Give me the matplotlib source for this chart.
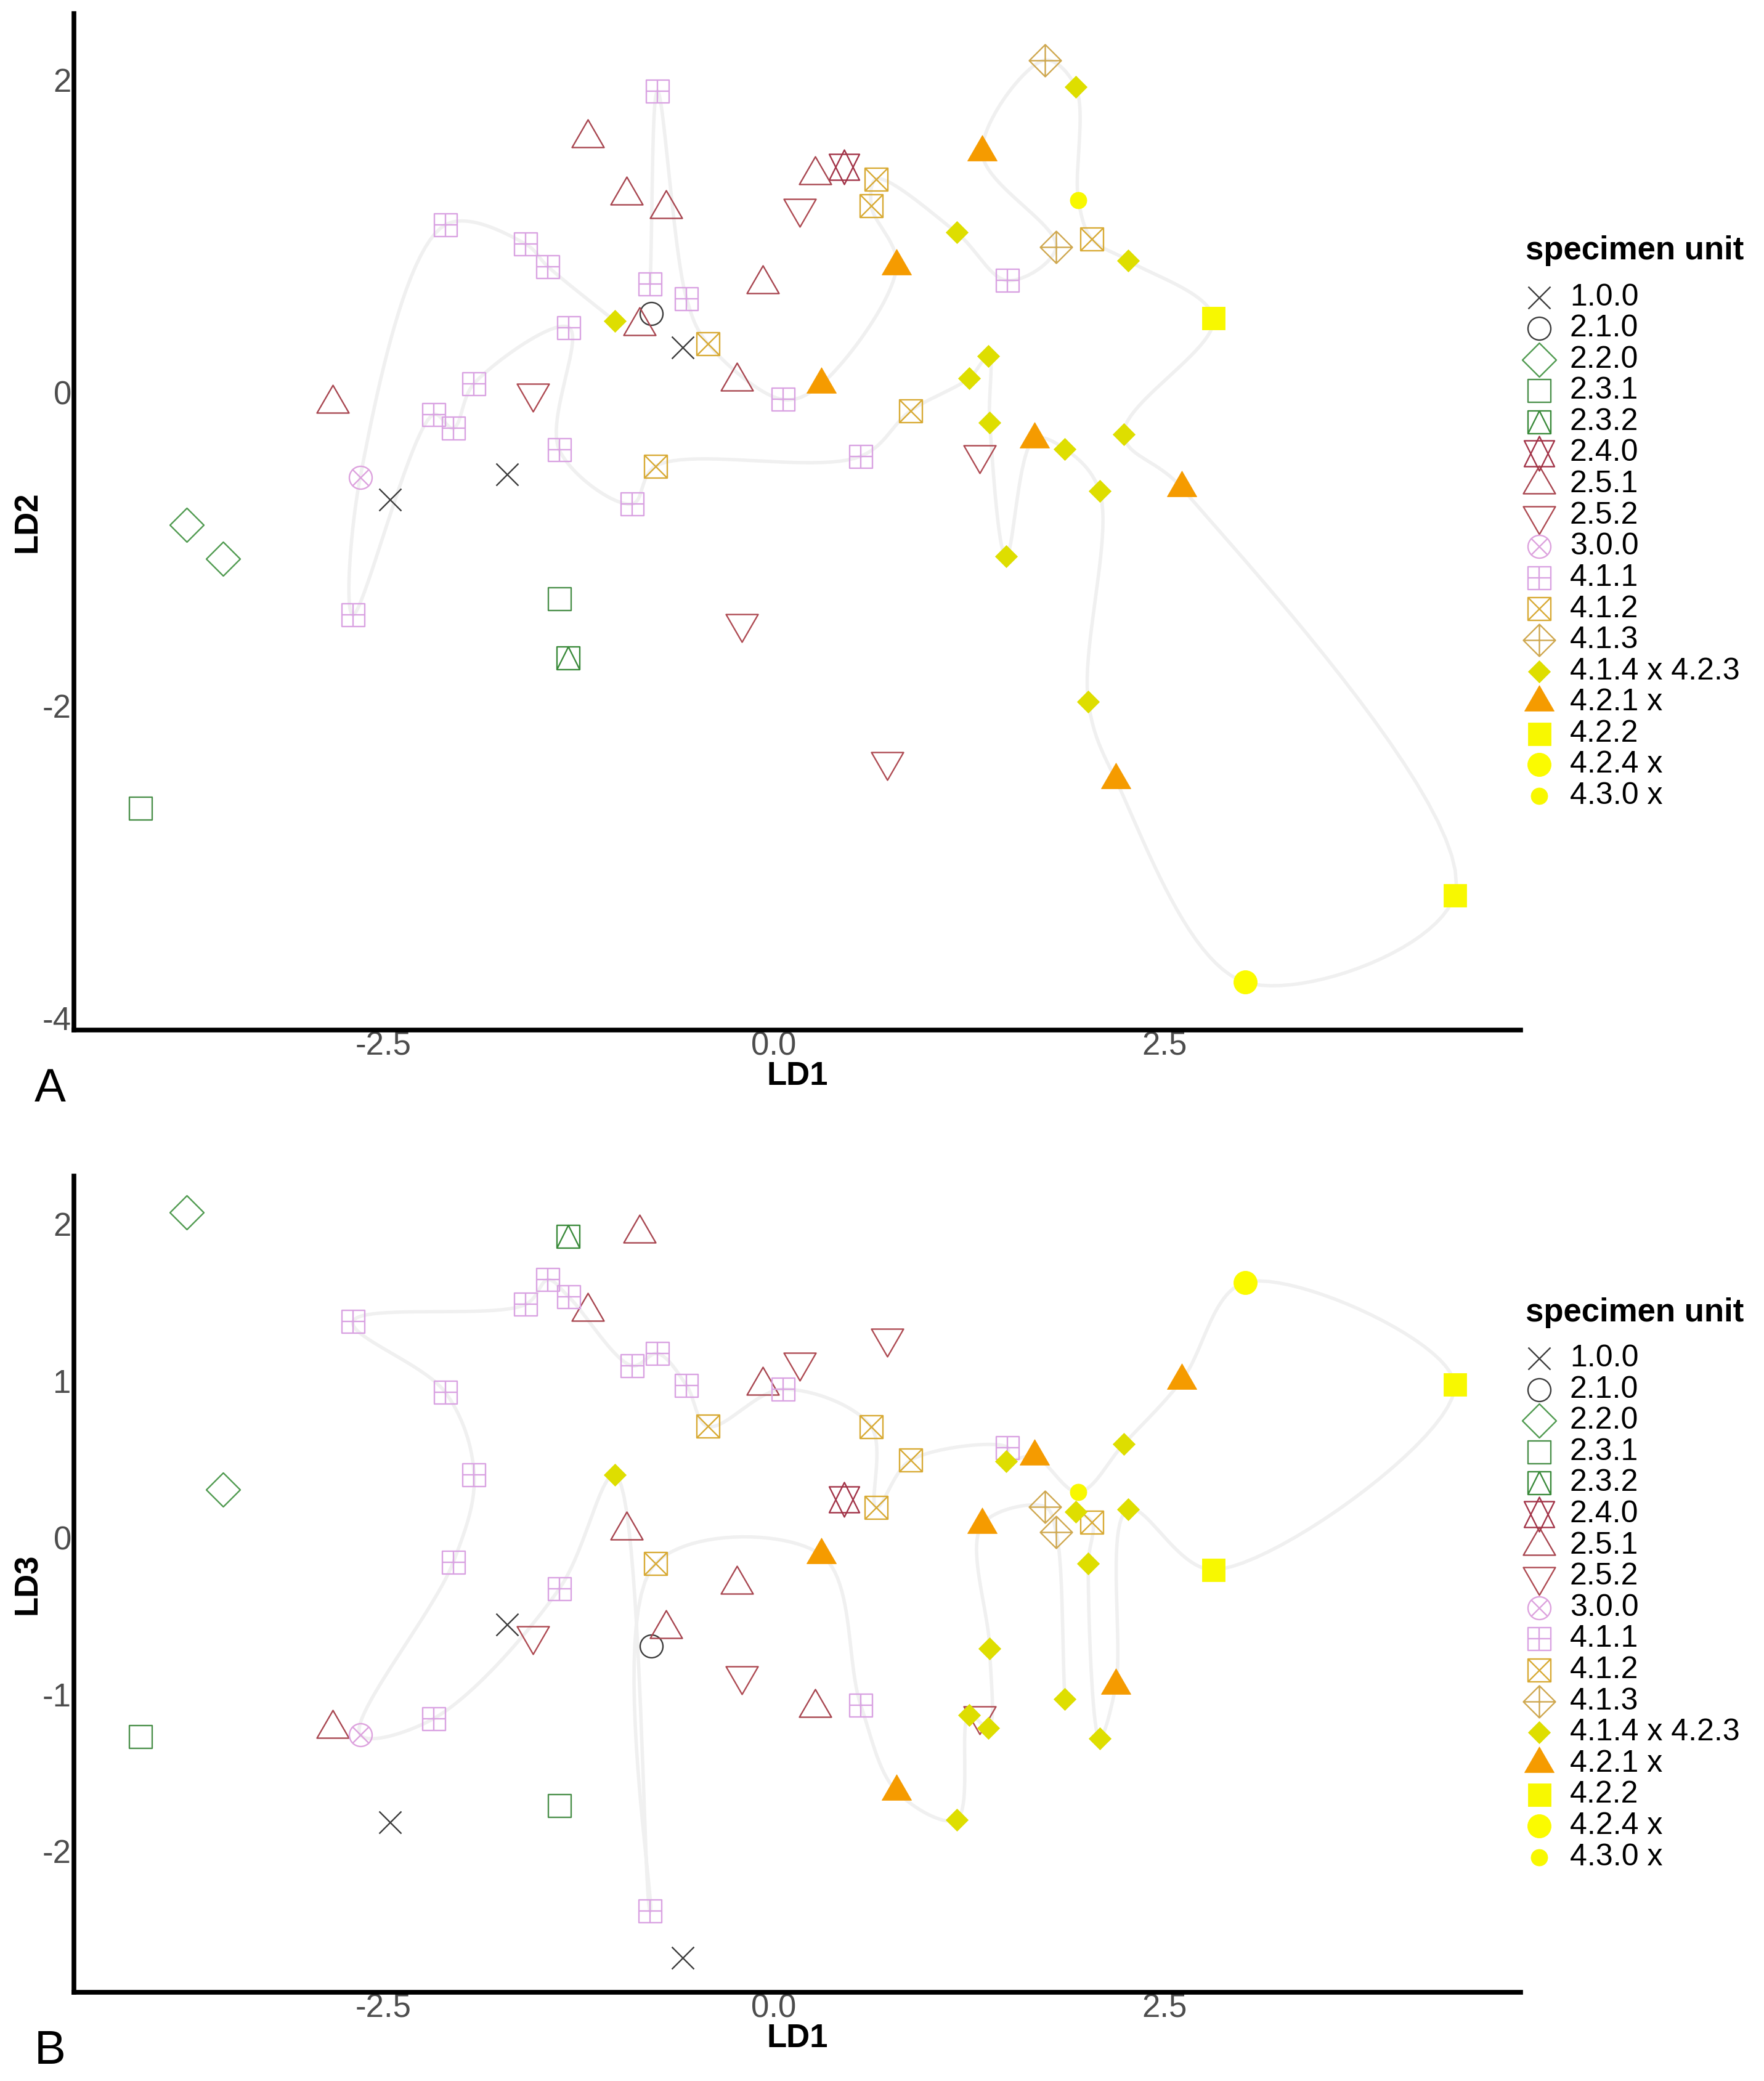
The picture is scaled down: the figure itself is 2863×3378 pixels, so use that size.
import numpy as np
import matplotlib
matplotlib.use("Agg")
import matplotlib.pyplot as plt
from matplotlib.path import Path
from matplotlib.markers import MarkerStyle

plt.rcParams['font.family'] = ['Liberation Sans', 'DejaVu Sans']

# ---------------- data ----------------
units = ['1.0.0', '2.1.0', '2.2.0', '2.3.1', '2.3.2', '2.4.0', '2.5.1', '2.5.2',
         '3.0.0', '4.1.1', '4.1.2', '4.1.3', '4.1.4 x 4.2.3', '4.2.1 x', '4.2.2',
         '4.2.4 x', '4.3.0 x']

ld1_u100 = [-2.457, -1.707, -0.583]
ld2_u100 = [-0.686, -0.521, 0.290]
ld3_u100 = [-1.816, -0.555, -2.679]

ld1_u210 = [-0.786]
ld2_u210 = [0.504]
ld3_u210 = [-0.690]

ld1_u220 = [-3.757, -3.526]
ld2_u220 = [-0.845, -1.062]
ld3_u220 = [2.075, 0.307]

ld1_u231 = [-1.374, -4.055]
ld2_u231 = [-1.319, -2.658]
ld3_u231 = [-1.708, -1.269]

ld1_u232 = [-1.318]
ld2_u232 = [-1.696]
ld3_u232 = [1.920]

ld1_u240 = [0.451]
ld2_u240 = [1.441]
ld3_u240 = [0.244]

ld1_u251 = [-2.822, -1.192, -0.941, -0.689, -0.861, -0.071, -0.236, 0.262]
ld2_u251 = [-0.068, 1.627, 1.263, 1.173, 0.428, 0.696, 0.070, 1.390]
ld3_u251 = [-1.220, 1.441, 0.048, -0.581, 1.942, 0.970, -0.299, -1.085]

ld1_u252 = [-1.543, 0.166, -0.204, 0.727, 1.315]
ld2_u252 = [-0.002, 1.178, -1.475, -2.359, -0.395]
ld3_u252 = [-0.627, 1.121, -0.881, 1.272, -1.136]

ld1_u300 = [-2.648]
ld2_u300 = [-0.543]
ld3_u300 = [-1.258]

ld1_u411 = [-2.695, -2.177, -2.102, -2.052, -1.919, -1.589, -1.446, -1.374,
            -1.312, -0.907, -0.745, -0.792, -0.559, 0.057, 0.556, 1.496]
ld2_u411 = [-1.421, -0.140, 1.073, -0.228, 0.058, 0.949, 0.805, -0.366,
            0.416, -0.712, 1.927, 0.696, 0.600, -0.044, -0.407, 0.716]
ld3_u411 = [1.377, -1.154, 0.925, -0.157, 0.400, 1.487, 1.644, -0.327,
            1.534, 1.096, 1.174, -2.382, 0.970, 0.946, -1.070, 0.574]

ld1_u412 = [-0.424, -0.759, 0.655, 0.623, 0.874, 2.036]
ld2_u412 = [0.314, -0.471, 1.365, 1.194, -0.117, 0.980]
ld3_u412 = [0.710, -0.166, 0.192, 0.707, 0.493, 0.099]

ld1_u413 = [1.735, 1.806]
ld2_u413 = [2.125, 0.929]
ld3_u413 = [0.197, 0.036]

ld1_u414 = [-1.018, 1.931, 1.169, 2.267, 1.373, 1.249, 1.381, 1.862, 2.239, 2.084, 1.486, 2.012]
ld2_u414 = [0.457, 1.954, 1.023, 0.844, 0.233, 0.092, -0.190, -0.360, -0.267, -0.630, -1.048, -1.975]
ld3_u414 = [0.400, 0.163, -1.798, 0.180, -1.213, -1.131, -0.708, -1.030, 0.597, -1.282, 0.487, -0.167]

ld1_u421 = [0.302, 0.786, 1.332, 1.666, 2.610, 2.188]
ld2_u421 = [0.053, 0.810, 1.536, -0.297, -0.609, -2.476]
ld3_u421 = [-0.110, -1.619, 0.082, 0.519, 1.002, -0.943]

ld1_u422 = [2.813, 4.356]
ld2_u422 = [0.476, -3.213]
ld3_u422 = [-0.205, 0.979]

ld1_u424 = [3.015]
ld2_u424 = [-3.769]
ld3_u424 = [1.627]

ld1_u430 = [1.949]
ld2_u430 = [1.228]
ld3_u430 = [0.290]

LD1 = [ld1_u100, ld1_u210, ld1_u220, ld1_u231, ld1_u232, ld1_u240, ld1_u251, ld1_u252,
       ld1_u300, ld1_u411, ld1_u412, ld1_u413, ld1_u414, ld1_u421, ld1_u422, ld1_u424, ld1_u430]
LD2 = [ld2_u100, ld2_u210, ld2_u220, ld2_u231, ld2_u232, ld2_u240, ld2_u251, ld2_u252,
       ld2_u300, ld2_u411, ld2_u412, ld2_u413, ld2_u414, ld2_u421, ld2_u422, ld2_u424, ld2_u430]
LD3 = [ld3_u100, ld3_u210, ld3_u220, ld3_u231, ld3_u232, ld3_u240, ld3_u251, ld3_u252,
       ld3_u300, ld3_u411, ld3_u412, ld3_u413, ld3_u414, ld3_u421, ld3_u422, ld3_u424, ld3_u430]

colors = ['#3c3c3c', '#3c3c3c', '#4f9a4f', '#4a904a', '#3a8a3a', '#a23448', '#a84650', '#ae4a52',
          '#dda2de', '#d9a2e2', '#d8aa34', '#cfa850', '#dede00', '#f59b00', '#f8f800',
          '#fbfb00', '#f8f800']

# path order (unit index, point index) for the connecting trajectory
D = 12
path_A = [(9, 11), (9, 10), (9, 12), (10, 0), (9, 13), (13, 0), (13, 1), (10, 3), (10, 2),
          (D, 2), (9, 15), (11, 1), (13, 2), (11, 0), (D, 1), (16, 0), (10, 5), (D, 3),
          (14, 0), (D, 8), (13, 4), (14, 1), (15, 0), (13, 5), (D, 11), (D, 9), (D, 7),
          (13, 3), (D, 10), (D, 6), (D, 4), (D, 5), (10, 4), (9, 14), (10, 1), (9, 9),
          (9, 7), (9, 8), (9, 4), (9, 3), (9, 1), (9, 0), (8, 0), (9, 2), (9, 5), (9, 6), (D, 0)]
path_B = [(D, 1), (10, 5), (D, 11), (D, 9), (13, 5), (D, 3), (14, 0), (14, 1), (15, 0),
          (13, 4), (D, 8), (16, 0), (13, 3), (D, 10), (9, 15), (10, 4), (10, 2), (10, 3),
          (9, 13), (10, 0), (9, 12), (9, 10), (9, 9), (9, 8), (9, 6), (9, 5), (9, 0),
          (9, 2), (9, 4), (9, 3), (8, 0), (9, 1), (9, 7), (D, 0), (9, 11), (10, 1),
          (13, 0), (9, 14), (13, 1), (D, 2), (D, 5), (D, 4), (D, 6), (13, 2), (11, 0),
          (11, 1), (D, 7)]

# ---------------- markers (R pch look-alikes) ----------------
PX_PER_PT = 100 / 72.0


def lines(segs):
    verts, codes = [], []
    for seg in segs:
        for k, p in enumerate(seg):
            verts.append(p)
            codes.append(Path.MOVETO if k == 0 else Path.LINETO)
    return Path(verts, codes)


def poly(pts):
    pts = list(pts) + [pts[0]]
    return Path(pts, [Path.MOVETO] + [Path.LINETO] * (len(pts) - 2) + [Path.CLOSEPOLY])


def circ(r):
    c = Path.unit_circle()
    return Path(c.vertices * r, c.codes)


def compound(*ps):
    return Path.make_compound_path(*ps)


s = 18.5
r_tri, xc_tri = 30.0, 26.0
hx_r, hx_yc, hx_xc = 28.0, 21.0, 24.5
dm = 27.5

marker_paths = [
    (lines([[(-18, -18), (18, 18)], [(-18, 18), (18, -18)]]), False),            # pch 4
    (circ(18.5), False),                                                          # pch 1
    (poly([(dm, 0), (0, dm), (-dm, 0), (0, -dm)]), False),                        # pch 5
    (poly([(-s, -s), (s, -s), (s, s), (-s, s)]), False),                          # pch 0
    (compound(poly([(-s, -s), (s, -s), (s, s), (-s, s)]),
              lines([[(-s, -s), (0, s), (s, -s)]])), False),                      # pch 14
    (compound(poly([(0, hx_r), (hx_xc, -hx_yc), (-hx_xc, -hx_yc)]),
              poly([(0, -hx_r), (hx_xc, hx_yc), (-hx_xc, hx_yc)])), False),       # pch 11
    (poly([(0, r_tri), (xc_tri, -r_tri / 2), (-xc_tri, -r_tri / 2)]), False),     # pch 2
    (poly([(0, -r_tri), (xc_tri, r_tri / 2), (-xc_tri, r_tri / 2)]), False),      # pch 6
    (compound(circ(18.5), lines([[(-13.1, -13.1), (13.1, 13.1)],
                                 [(-13.1, 13.1), (13.1, -13.1)]])), False),       # pch 13
    (compound(poly([(-s, -s), (s, -s), (s, s), (-s, s)]),
              lines([[(-s, 0), (s, 0)], [(0, -s), (0, s)]])), False),             # pch 12
    (compound(poly([(-s, -s), (s, -s), (s, s), (-s, s)]),
              lines([[(-s, -s), (s, s)], [(-s, s), (s, -s)]])), False),           # pch 7
    (compound(poly([(26, 0), (0, 26), (-26, 0), (0, -26)]),
              lines([[(-26, 0), (26, 0)], [(0, -26), (0, 26)]])), False),         # pch 9
    (poly([(18, 0), (0, 18), (-18, 0), (0, -18)]), True),                         # pch 18
    (poly([(0, 27.7), (24, -13.85), (-24, -13.85)]), True),                       # pch 17
    (poly([(-18.5, -18.5), (18.5, -18.5), (18.5, 18.5), (-18.5, 18.5)]), True),   # pch 15
    (circ(19.0), True),                                                           # pch 16
    (circ(13.5), True),                                                           # pch 20
]


def draw_mark(ax, x, y, k, **kw):
    path, filled = marker_paths[k]
    ms = 2 * np.max(np.abs(path.vertices)) / PX_PER_PT
    col = colors[k]
    ax.plot(x, y, linestyle='none', marker=MarkerStyle(path), markersize=ms,
            markerfacecolor=col if filled else 'none', markeredgecolor=col,
            markeredgewidth=0.6 if filled else 1.7, zorder=3, **kw)


def catmull_rom(P, n=24, alpha=0.5):
    P = np.asarray(P, float)
    P = np.vstack([2 * P[0] - P[1], P, 2 * P[-1] - P[-2]])
    out = []
    for i in range(1, len(P) - 2):
        p0, p1, p2, p3 = P[i - 1], P[i], P[i + 1], P[i + 2]
        t0 = 0.0
        t1 = t0 + max(np.linalg.norm(p1 - p0), 1e-6) ** alpha
        t2 = t1 + max(np.linalg.norm(p2 - p1), 1e-6) ** alpha
        t3 = t2 + max(np.linalg.norm(p3 - p2), 1e-6) ** alpha
        t = np.linspace(t1, t2, n)[:, None]
        a1 = (t1 - t) / (t1 - t0) * p0 + (t - t0) / (t1 - t0) * p1
        a2 = (t2 - t) / (t2 - t1) * p1 + (t - t1) / (t2 - t1) * p2
        a3 = (t3 - t) / (t3 - t2) * p2 + (t - t2) / (t3 - t2) * p3
        b1 = (t2 - t) / (t2 - t0) * a1 + (t - t0) / (t2 - t0) * a2
        b2 = (t3 - t) / (t3 - t1) * a2 + (t - t1) / (t3 - t1) * a3
        c = (t2 - t) / (t2 - t1) * b1 + (t - t1) / (t2 - t1) * b2
        out.append(c if i == 1 else c[1:])
    return np.vstack(out)


# ---------------- figure ----------------
W, H = 2863, 3378
fig = plt.figure(figsize=(W / 100, H / 100), dpi=100)
fig.patch.set_facecolor('white')

XL, XR = 120, 2468
panels = [
    dict(top=22, bottom=1672, ylim=(-4.075, 2.423), yticks=[-4, -2, 0, 2], ydat=LD2,
         ylabel='LD2', path=path_A, tag='A', tag_y=1768, leg_title=407, leg_first=482.5),
    dict(top=1909, bottom=3234, ylim=(-2.900, 2.306), yticks=[-2, -1, 0, 1, 2], ydat=LD3,
         ylabel='LD3', path=path_B, tag='B', tag_y=3330, leg_title=2131, leg_first=2205),
]

for P in panels:
    ax = fig.add_axes([XL / W, 1 - P['bottom'] / H, (XR - XL) / W, (P['bottom'] - P['top']) / H])
    ax.set_xlim(-4.480, 4.779)
    ax.set_ylim(*P['ylim'])
    ax.set_facecolor('white')
    for sp in ['top', 'right']:
        ax.spines[sp].set_visible(False)
    for sp in ['left', 'bottom']:
        ax.spines[sp].set_linewidth(5.5)
        ax.spines[sp].set_color('black')
        ax.spines[sp].set_capstyle('projecting')
    ax.set_xticks([-2.5, 0.0, 2.5])
    ax.set_xticklabels(['-2.5', '0.0', '2.5'])
    ax.set_yticks(P['yticks'])
    ax.set_yticklabels([str(v) for v in P['yticks']])
    ax.tick_params(axis='both', length=0, labelsize=38, labelcolor='#4d4d4d')
    ax.tick_params(axis='x', pad=1)
    ax.tick_params(axis='y', pad=3)
    ax.set_xlabel('LD1', fontsize=38, fontweight='bold')
    ax.set_ylabel(P['ylabel'], fontsize=38, fontweight='bold')
    ax.xaxis.set_label_coords(0.5, -75.0 / (P['bottom'] - P['top']))
    ax.xaxis.label.set_va('center')
    ax.yaxis.set_label_coords(-0.032, 0.5)
    ax.yaxis.label.set_va('center')

    # trajectory
    pts = [(LD1[u][i], P['ydat'][u][i]) for (u, i) in P['path']]
    curve = catmull_rom(pts)
    ax.plot(curve[:, 0], curve[:, 1], color='#f0f0f0', lw=4.0, zorder=1,
            solid_capstyle='round', solid_joinstyle='round')

    # points
    for k in range(len(units)):
        draw_mark(ax, LD1[k], P['ydat'][k], k, clip_on=False)

    # panel tag
    fig.text(56 / W, 1 - P['tag_y'] / H, P['tag'], fontsize=55, ha='left', va='center')

    # legend
    pitch = 50.6
    y_top_px = P['leg_title'] - 60
    y_bot_px = P['leg_first'] + 16 * pitch + 45
    lx0 = 2440
    lax = fig.add_axes([lx0 / W, 1 - y_bot_px / H, (W - lx0) / W, (y_bot_px - y_top_px) / H])
    lax.set_xlim(0, W - lx0)
    lax.set_ylim((y_bot_px - P['leg_first']) / pitch, (y_top_px - P['leg_first']) / pitch)
    lax.axis('off')
    lax.text(36, (P['leg_title'] - P['leg_first']) / pitch, 'specimen unit', fontsize=38,
             fontweight='bold', ha='left', va='center', color='black')
    for k, lab in enumerate(units):
        draw_mark(lax, [58], [k], k, clip_on=False)
        lax.text(108, k, lab, fontsize=36, ha='left', va='center', color='black')

fig.savefig('out.png', dpi=100, facecolor='white')
